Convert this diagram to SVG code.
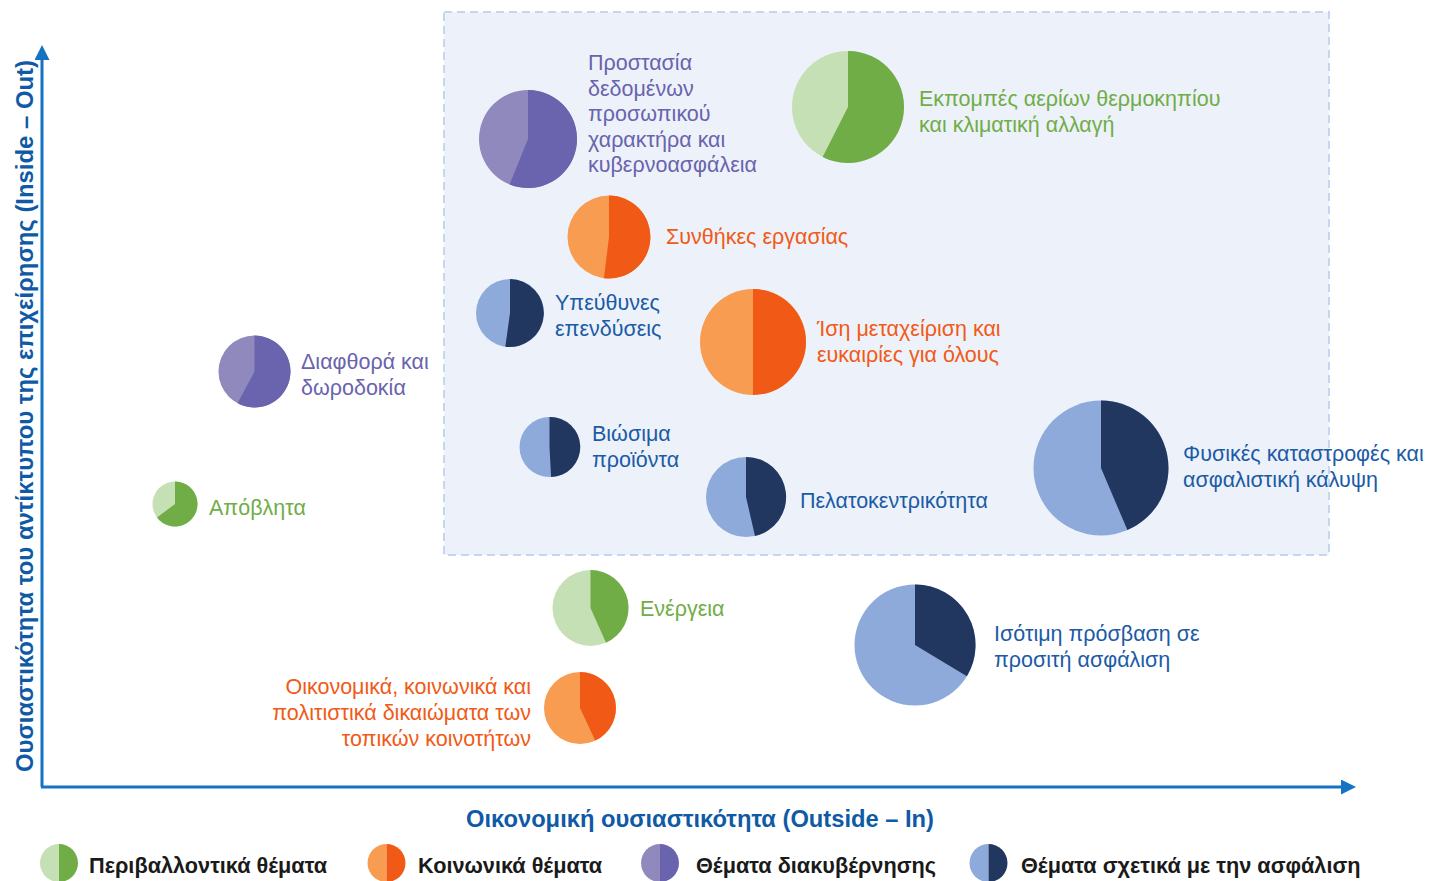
<svg xmlns="http://www.w3.org/2000/svg" width="1435" height="881" viewBox="0 0 1435 881">
<defs>
<style>
text{font-family:"Liberation Sans",Arial,sans-serif;}
.lbl{font-size:21.5px;}
.env{fill:#70ad47;}
.soc{fill:#f15a16;}
.gov{fill:#6a63ad;}
.ins{fill:#1b5ba6;}
.envL{fill:#c5e0b4;}
.envD{fill:#70ad47;}
.socL{fill:#f89c52;}
.socD{fill:#f15a16;}
.govL{fill:#8f89be;}
.govD{fill:#6a63ad;}
.insL{fill:#8eaadb;}
.insD{fill:#22375f;}
.axt{font-size:23.5px;font-weight:bold;fill:#0f5aa6;}
.leg{font-size:21.7px;font-weight:bold;fill:#1a1a1a;}
.axis{stroke:#1473c2;stroke-width:3;fill:none;}
</style>
<marker id="arr" viewBox="0 0 10 10" refX="0" refY="5" markerWidth="5" markerHeight="5" markerUnits="strokeWidth" orient="auto">
<path d="M0,0 L10,5 L0,10 Z" fill="#1473c2"/>
</marker>
</defs>
<rect width="1435" height="881" fill="#ffffff"/>
<rect id="focus-area" x="444" y="12" width="885" height="543" fill="#edf2fa" stroke="#c6d6ee" stroke-width="2" stroke-dasharray="8 5"/>

<g id="connectors">
<line class="axis" x1="42" y1="787" x2="42" y2="60" marker-end="url(#arr)"/>
<line class="axis" x1="41" y1="787" x2="1341" y2="787" marker-end="url(#arr)"/>
</g>

<text class="axt" transform="translate(33,416) rotate(-90)" text-anchor="middle" textLength="712" lengthAdjust="spacingAndGlyphs">Ουσιαστικότητα του αντίκτυπου της επιχείρησης (Inside – Out)</text>
<text class="axt" x="700" y="827" text-anchor="middle" textLength="468" lengthAdjust="spacingAndGlyphs">Οικονομική ουσιαστικότητα (Outside – In)</text>

<g id="n-data-privacy">
<circle class="govL" cx="528" cy="139" r="49"/>
<path class="govD" d="M528,139 L528,90 A49,49 0 1 1 509.6,184.4 Z"/>
<text class="lbl gov" x="588"><tspan x="588" y="70">Προστασία</tspan><tspan x="588" y="95.5">δεδομένων</tspan><tspan x="588" y="121">προσωπικού</tspan><tspan x="588" y="146.5">χαρακτήρα και</tspan><tspan x="588" y="172">κυβερνοασφάλεια</tspan></text>
</g>

<g id="n-emissions">
<circle class="envL" cx="848" cy="107" r="56"/>
<path class="envD" d="M848,107 L848,51 A56,56 0 1 1 822.6,156.9 Z"/>
<text class="lbl env"><tspan x="919" y="106">Εκπομπές αερίων θερμοκηπίου</tspan><tspan x="919" y="132">και κλιματική αλλαγή</tspan></text>
</g>

<g id="n-work-conditions">
<circle class="socL" cx="609" cy="237" r="41.5"/>
<path class="socD" d="M609,237 L609,195.5 A41.5,41.5 0 1 1 603.9,278.2 Z"/>
<text class="lbl soc" x="666" y="244">Συνθήκες εργασίας</text>
</g>

<g id="n-responsible-investments">
<circle class="insL" cx="510" cy="313" r="34"/>
<path class="insD" d="M510,313 L510,279 A34,34 0 1 1 505.3,346.7 Z"/>
<text class="lbl ins"><tspan x="555" y="310">Υπεύθυνες</tspan><tspan x="555" y="336">επενδύσεις</tspan></text>
</g>

<g id="n-equal-treatment">
<circle class="socL" cx="753" cy="342" r="53"/>
<path class="socD" d="M753,342 L753,289 A53,53 0 0 1 753,395 Z"/>
<text class="lbl soc"><tspan x="817" y="336">Ίση μεταχείριση και</tspan><tspan x="817" y="362">ευκαιρίες για όλους</tspan></text>
</g>

<g id="n-sustainable-products">
<circle class="insL" cx="549.5" cy="447" r="30"/>
<path class="insD" d="M549.5,447 L549.5,417 A30,30 0 0 1 551.1,477 Z"/>
<text class="lbl ins"><tspan x="592" y="441">Βιώσιμα</tspan><tspan x="592" y="467">προϊόντα</tspan></text>
</g>

<g id="n-customer-centricity">
<circle class="insL" cx="746" cy="497" r="40"/>
<path class="insD" d="M746,497 L746,457 A40,40 0 0 1 755,536 Z"/>
<text class="lbl ins" x="800" y="508">Πελατοκεντρικότητα</text>
</g>

<g id="n-natural-catastrophes">
<circle class="insL" cx="1101" cy="468" r="67.5"/>
<path class="insD" d="M1101,468 L1101,400.5 A67.5,67.5 0 0 1 1127.4,530.1 Z"/>
<text class="lbl ins"><tspan x="1183" y="461">Φυσικές καταστροφές και</tspan><tspan x="1183" y="487">ασφαλιστική κάλυψη</tspan></text>
</g>

<g id="n-corruption">
<circle class="govL" cx="254.5" cy="371.5" r="36"/>
<path class="govD" d="M254.5,371.5 L254.5,335.5 A36,36 0 1 1 237.6,403.3 Z"/>
<text class="lbl gov"><tspan x="301" y="369">Διαφθορά και</tspan><tspan x="301" y="395">δωροδοκία</tspan></text>
</g>

<g id="n-waste">
<circle class="envL" cx="175" cy="504" r="22.5"/>
<path class="envD" d="M175,504 L175,481.5 A22.5,22.5 0 1 1 157,517.5 Z"/>
<text class="lbl env" x="209" y="515">Απόβλητα</text>
</g>

<g id="n-energy">
<circle class="envL" cx="590.5" cy="608" r="38"/>
<path class="envD" d="M590.5,608 L590.5,570 A38,38 0 0 1 606,642.7 Z"/>
<text class="lbl env" x="640" y="616">Ενέργεια</text>
</g>

<g id="n-community-rights">
<circle class="socL" cx="580" cy="708" r="36"/>
<path class="socD" d="M580,708 L580,672 A36,36 0 0 1 595.2,740.6 Z"/>
<text class="lbl soc" text-anchor="end"><tspan x="531" y="694">Οικονομικά, κοινωνικά και</tspan><tspan x="531" y="720">πολιτιστικά δικαιώματα των</tspan><tspan x="531" y="746">τοπικών κοινοτήτων</tspan></text>
</g>

<g id="n-equal-access">
<circle class="insL" cx="915" cy="645" r="60.5"/>
<path class="insD" d="M915,645 L915,584.5 A60.5,60.5 0 0 1 966.9,676.2 Z"/>
<text class="lbl ins"><tspan x="994" y="641">Ισότιμη πρόσβαση σε</tspan><tspan x="994" y="667">προσιτή ασφάλιση</tspan></text>
</g>

<g id="legend">
<g id="leg-env">
<path class="envL" d="M59,844 A19,19 0 0 0 59,882 Z"/>
<path class="envD" d="M59,844 A19,19 0 0 1 59,882 Z"/>
<text class="leg" x="89" y="873">Περιβαλλοντικά θέματα</text>
</g>
<g id="leg-soc">
<path class="socL" d="M386.5,844 A19,19 0 0 0 386.5,882 Z"/>
<path class="socD" d="M386.5,844 A19,19 0 0 1 386.5,882 Z"/>
<text class="leg" x="418" y="873">Κοινωνικά θέματα</text>
</g>
<g id="leg-gov">
<path class="govL" d="M660,844 A19,19 0 0 0 660,882 Z"/>
<path class="govD" d="M660,844 A19,19 0 0 1 660,882 Z"/>
<text class="leg" x="696" y="873">Θέματα διακυβέρνησης</text>
</g>
<g id="leg-ins">
<path class="insL" d="M988.5,844 A19,19 0 0 0 988.5,882 Z"/>
<path class="insD" d="M988.5,844 A19,19 0 0 1 988.5,882 Z"/>
<text class="leg" x="1021" y="873">Θέματα σχετικά με την ασφάλιση</text>
</g>
</g>
</svg>
